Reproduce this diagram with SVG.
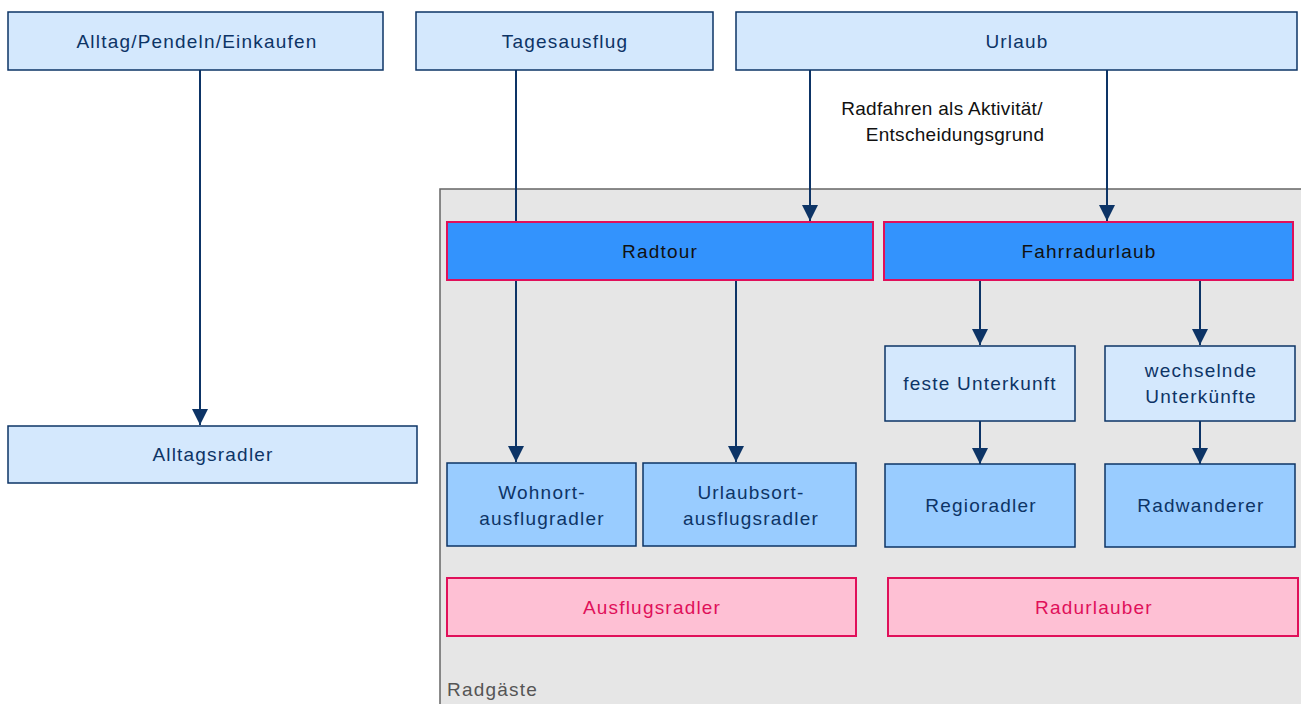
<svg xmlns="http://www.w3.org/2000/svg" width="1301" height="704" viewBox="0 0 1301 704">
<defs>
<marker id="ah" markerWidth="16" markerHeight="16" refX="16" refY="8" orient="auto" markerUnits="userSpaceOnUse" viewBox="0 0 16 16">
<path d="M0,0 L16,8 L0,16 Z" fill="#0d3466"/>
</marker>
<style>
text{font-family:"Liberation Sans",Arial,sans-serif;font-size:19px;letter-spacing:1.2px;text-anchor:middle;dominant-baseline:central}
.lt{fill:#d4e8fd;stroke:#0d3466;stroke-width:1.5}
.md{fill:#99ccff;stroke:#0d3466;stroke-width:1.5}
.dk{fill:#3393fd;stroke:#e0105a;stroke-width:2}
.pk{fill:#fec0d4;stroke:#e0105a;stroke-width:2}
.tb{fill:#0d3466}
.tk{fill:#111}
.tp{fill:#e0105a}
.lbl{letter-spacing:0.3px}
.c{stroke:#0d3466;stroke-width:2;fill:none}
</style>
</defs>
<rect width="1301" height="704" fill="#fff"/>
<g id="radgaeste">
<rect x="440" y="189" width="864" height="520" fill="#e6e6e6" stroke="#666" stroke-width="1.5"/>
<text x="447" y="689" style="text-anchor:start;fill:#555">Radgäste</text>
</g>
<g id="connectors">
<line class="c" x1="200" y1="70" x2="200" y2="425" marker-end="url(#ah)"/>
<line class="c" x1="516" y1="70" x2="516" y2="222"/>
<line class="c" x1="810" y1="70" x2="810" y2="221" marker-end="url(#ah)"/>
<line class="c" x1="1107" y1="70" x2="1107" y2="221" marker-end="url(#ah)"/>
<line class="c" x1="516" y1="281" x2="516" y2="462" marker-end="url(#ah)"/>
<line class="c" x1="736" y1="281" x2="736" y2="462" marker-end="url(#ah)"/>
<line class="c" x1="980" y1="281" x2="980" y2="345" marker-end="url(#ah)"/>
<line class="c" x1="1200" y1="281" x2="1200" y2="345" marker-end="url(#ah)"/>
<line class="c" x1="980" y1="421" x2="980" y2="464" marker-end="url(#ah)"/>
<line class="c" x1="1200" y1="421" x2="1200" y2="464" marker-end="url(#ah)"/>
<text x="942" y="108" class="tk lbl">Radfahren als Aktivität/</text>
<text x="955" y="134" class="tk lbl">Entscheidungsgrund</text>
</g>
<g id="alltag"><rect class="lt" x="8" y="12" width="375" height="58"/><text x="197" y="41" class="tb">Alltag/Pendeln/Einkaufen</text></g>
<g id="tagesausflug"><rect class="lt" x="416" y="12" width="297" height="58"/><text x="565" y="41" class="tb">Tagesausflug</text></g>
<g id="urlaub"><rect class="lt" x="736" y="12" width="561" height="58"/><text x="1017" y="41" class="tb">Urlaub</text></g>
<g id="alltagsradler"><rect class="lt" x="8" y="426" width="409" height="57"/><text x="213" y="454" class="tb">Alltagsradler</text></g>
<g id="radtour"><rect class="dk" x="447" y="222" width="426" height="58"/><text x="660" y="251" class="tk">Radtour</text></g>
<g id="fahrradurlaub"><rect class="dk" x="884" y="222" width="409" height="58"/><text x="1089" y="251" class="tk">Fahrradurlaub</text></g>
<g id="feste"><rect class="lt" x="885" y="346" width="190" height="75"/><text x="980" y="383" class="tb">feste Unterkunft</text></g>
<g id="wechselnde"><rect class="lt" x="1105" y="346" width="190" height="75"/><text x="1201" y="370" class="tb">wechselnde</text><text x="1201" y="396" class="tb">Unterkünfte</text></g>
<g id="wohnort"><rect class="md" x="447" y="463" width="189" height="83"/><text x="542" y="492" class="tb">Wohnort-</text><text x="542" y="518" class="tb">ausflugradler</text></g>
<g id="urlaubsort"><rect class="md" x="643" y="463" width="213" height="83"/><text x="751" y="492" class="tb">Urlaubsort-</text><text x="751" y="518" class="tb">ausflugsradler</text></g>
<g id="regioradler"><rect class="md" x="885" y="464" width="190" height="83"/><text x="981" y="505" class="tb">Regioradler</text></g>
<g id="radwanderer"><rect class="md" x="1105" y="464" width="190" height="83"/><text x="1201" y="505" class="tb">Radwanderer</text></g>
<g id="ausflugsradler"><rect class="pk" x="447" y="578" width="409" height="58"/><text x="652" y="607" class="tp">Ausflugsradler</text></g>
<g id="radurlauber"><rect class="pk" x="888" y="578" width="410" height="58"/><text x="1094" y="607" class="tp">Radurlauber</text></g>
</svg>
